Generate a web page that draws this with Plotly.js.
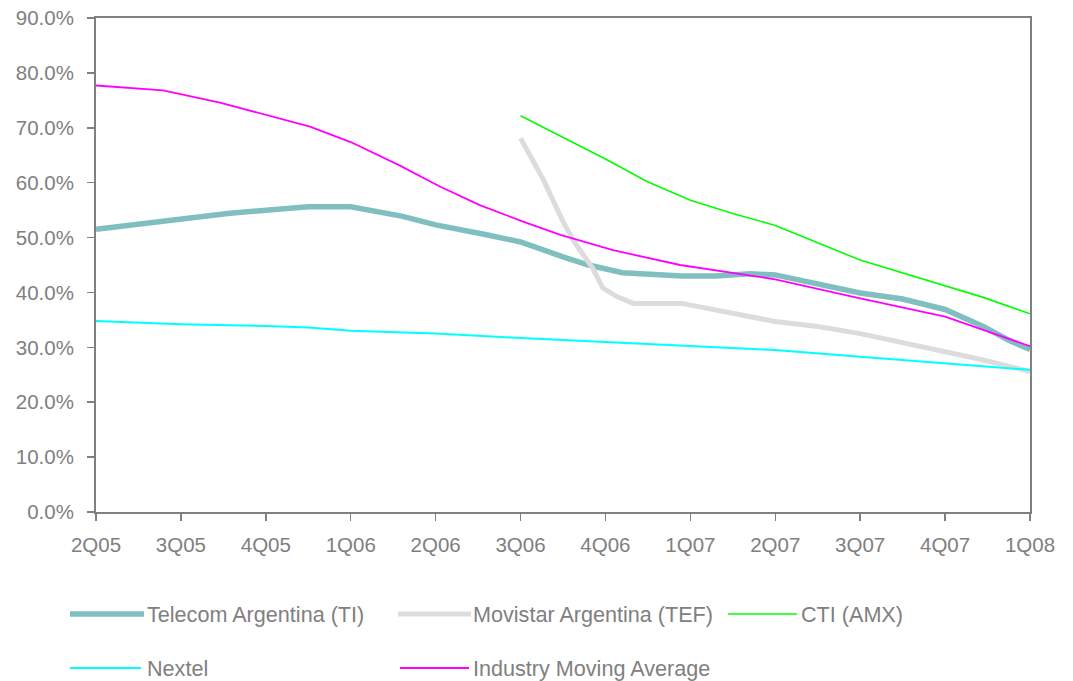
<!DOCTYPE html>
<html>
<head>
<meta charset="utf-8">
<script src="https://cdn.plot.ly/plotly-3.0.1.min.js"></script>
<style>
html,body{margin:0;padding:0;background:#fff;}
#chart{width:1073px;height:681px;}
</style>
</head>
<body>
<div id="chart"></div>
<script>
// Category tick labels (quarters); x positions are in quarter units from 2Q05
var quarters = ["2Q05","3Q05","4Q05","1Q06","2Q06","3Q06","4Q06","1Q07","2Q07","3Q07","4Q07","1Q08"];

// Series names
var seriesNames = ["Telecom Argentina (TI)","Movistar Argentina (TEF)","CTI (AMX)","Nextel","Industry Moving Average"];

// Telecom Argentina (TI)
var tiX = [0,0.79,1.55,2.5,3.0,3.6,4.0,4.6,5.0,5.5,5.8,6.2,6.9,7.3,7.7,8.0,9.0,9.5,10.0,10.45,10.75,11.0];
var tiY = [51.5,53.0,54.4,55.6,55.6,53.9,52.3,50.5,49.2,46.5,45.0,43.6,43.0,43.0,43.4,43.2,39.9,38.8,36.9,33.8,31.3,29.6];

// Movistar Argentina (TEF)
var tefX = [5.0,5.14,5.27,5.5,5.62,5.85,5.97,6.14,6.33,6.9,7.3,8.0,8.5,9.0,10.0,10.45,11.0];
var tefY = [68.1,64.1,60.5,52.9,49.5,44.4,40.8,39.2,38.0,38.0,36.8,34.7,33.8,32.5,29.2,27.7,25.6];

// CTI (AMX)
var ctiX = [5.0,6.0,6.49,7.0,7.5,8.0,9.0,9.5,10.0,10.45,11.0];
var ctiY = [72.2,64.3,60.2,56.8,54.4,52.2,45.9,43.6,41.2,39.1,36.1];

// Nextel
var nxtX = [0,1,2,2.5,3,4,5,6,7,8,9,10,11];
var nxtY = [34.8,34.2,33.9,33.6,33.0,32.5,31.7,31.0,30.2,29.5,28.3,27.1,25.9];

// Industry Moving Average
var indX = [0,0.79,1.46,2.52,3.0,3.58,4.05,4.52,5.03,5.47,6.09,6.88,8.0,9.0,10.0,11.0];
var indY = [77.7,76.8,74.6,70.2,67.4,63.1,59.3,55.9,52.9,50.5,47.7,45.0,42.4,38.9,35.6,30.2];

var colors = ["#7fbfbf","#dcdcdc","#00ff00","#00ffff","#ff00ff"];
var widths = [5.5,5,1.6,2,1.8];

var xs = [tiX, tefX, ctiX, nxtX, indX];
var ys = [tiY, tefY, ctiY, nxtY, indY];

var traces = [];
for (var i = 0; i < seriesNames.length; i++) {
  traces.push({
    type: "scatter",
    mode: "lines",
    name: seriesNames[i],
    x: xs[i],
    y: ys[i],
    line: {color: colors[i], width: widths[i]},
    showlegend: false,
    hoverinfo: "x+y+name"
  });
}

// Custom legend (line sample + label), placed in paper coordinates
var W = 1073, H = 681, ML = 96, MR = 43, MT = 18, MB = 169;
var pw = W - ML - MR, ph = H - MT - MB;
function px(x){ return (x - ML) / pw; }
function py(y){ return (H - MB - y) / ph; }
var legPos = [
  {x0:70, x1:144, tx:145, y:614},
  {x0:398, x1:471, tx:471, y:614},
  {x0:728, x1:797, tx:799, y:614},
  {x0:70, x1:141, tx:145, y:668},
  {x0:400, x1:469, tx:471, y:668}
];
var shapes = [], annotations = [];
for (var j = 0; j < seriesNames.length; j++) {
  var p = legPos[j];
  shapes.push({type:"line", xref:"paper", yref:"paper",
    x0:px(p.x0), x1:px(p.x1), y0:py(p.y), y1:py(p.y),
    line:{color:colors[j], width:widths[j]}});
  annotations.push({xref:"paper", yref:"paper", x:px(p.tx), y:py(p.y),
    xanchor:"left", yanchor:"middle", showarrow:false, text:seriesNames[j],
    font:{family:"Liberation Sans, Arial, sans-serif", size:21.6, color:"#808080"}});
}

var axisFont = {family:"Liberation Sans, Arial, sans-serif", size:20.5, color:"#808080"};

var layout = {
  width: W, height: H,
  margin: {l:ML, r:MR, t:MT, b:MB, pad:0},
  paper_bgcolor: "#ffffff",
  plot_bgcolor: "#ffffff",
  showlegend: false,
  xaxis: {
    range: [0, 11],
    tickmode: "array",
    tickvals: quarters.map(function(q, k){ return k; }),
    ticktext: quarters,
    showgrid: false, zeroline: false,
    showline: true, linecolor: "#808080", linewidth: 2, mirror: true,
    ticks: "outside", ticklen: 7, tickwidth: 1.5, tickcolor: "#808080",
    tickfont: axisFont, ticklabelstandoff: 6
  },
  yaxis: {
    range: [0, 90],
    tick0: 0, dtick: 10,
    tickformat: ".1f", ticksuffix: "%",
    showgrid: false, zeroline: false,
    showline: true, linecolor: "#808080", linewidth: 2, mirror: true,
    ticks: "outside", ticklen: 7, tickwidth: 1.5, tickcolor: "#808080",
    tickfont: axisFont, ticklabelstandoff: 9
  },
  shapes: shapes,
  annotations: annotations
};

Plotly.newPlot("chart", traces, layout, {displayModeBar:false, staticPlot:true});
</script>
</body>
</html>
